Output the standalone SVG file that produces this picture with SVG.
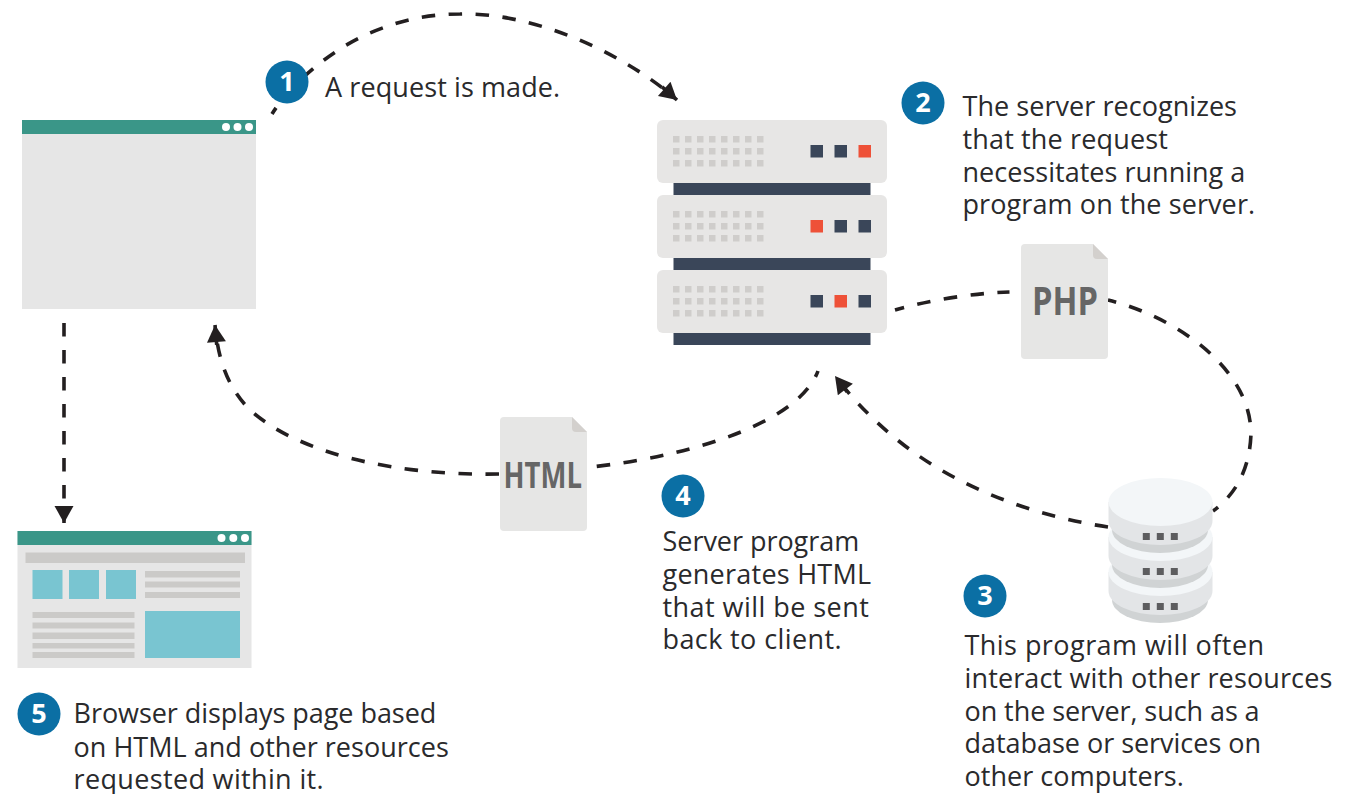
<svg xmlns="http://www.w3.org/2000/svg" xmlns:xlink="http://www.w3.org/1999/xlink" width="1360" height="794" viewBox="0 0 1360 794">
<style>
.lbl{font-family:"Open Sans","Noto Sans",sans-serif;font-size:27px;letter-spacing:.1px;fill:#2a2a2c}
.num{font-family:"Open Sans","Noto Sans",sans-serif;font-size:27px;font-weight:700;fill:#fff;text-anchor:middle}
.badge{fill:#0b6fa4}
.dash{fill:none;stroke:#231f20;stroke-width:3.6;stroke-dasharray:13.500 13.500}
.dark{fill:#3a4659}.red{fill:#ee5138}.unit{fill:#e7e6e5}.dot{fill:#cfcdcb}
.teal{fill:#3a9688}.page{fill:#e6e6e6}.wd{fill:#fff}.ln{fill:#cbcac8}.blue{fill:#79c5d1}
.doc{fill:#e6e6e5}.fold{fill:#d3d0cd}.dt{font-family:"Open Sans","Noto Sans",sans-serif;font-weight:700;fill:#666}
.dbt{fill:#f3f6f8}.dbm{fill:#e3e5e7}.dbd{fill:#d0d3d4}.dbs{fill:#5d5d5f}
</style>
<defs>
<marker id="ah" markerUnits="userSpaceOnUse" markerWidth="24" markerHeight="22" refX="20" refY="9.500" orient="auto"><path d="M0,7.700H4V11.300H0Z" fill="#231f20"/><path d="M3,0L20,9.500L3,19Z" fill="#231f20"/></marker>
<marker id="ah2" markerUnits="userSpaceOnUse" markerWidth="24" markerHeight="22" refX="17" refY="9.500" orient="auto"><path d="M0,0L17,9.500L0,19Z" fill="#231f20"/></marker>
<g id="grid">
<g id="row"><rect x="673" y="136" width="6.500" height="6.500" class="dot"/><rect x="685" y="136" width="6.500" height="6.500" class="dot"/><rect x="697" y="136" width="6.500" height="6.500" class="dot"/><rect x="709" y="136" width="6.500" height="6.500" class="dot"/><rect x="721" y="136" width="6.500" height="6.500" class="dot"/><rect x="733" y="136" width="6.500" height="6.500" class="dot"/><rect x="745" y="136" width="6.500" height="6.500" class="dot"/><rect x="757" y="136" width="6.500" height="6.500" class="dot"/></g>
<use xlink:href="#row" href="#row" y="12"/><use xlink:href="#row" href="#row" y="24"/>
</g>
<g id="tier"><path d="M1112,510V530A48,23 0 0 0 1208,530V510Z" class="dbd"/><path d="M1108.500,502V521A52,24 0 0 0 1212.500,521V502Z" class="dbm"/><ellipse cx="1160.500" cy="502" rx="52" ry="24" class="dbt"/><rect x="1142.800" y="533" width="7" height="7" class="dbs"/><rect x="1156.800" y="533" width="7" height="7" class="dbs"/><rect x="1170.800" y="533" width="7" height="7" class="dbs"/></g>
</defs>
<g id="connectors">
<path class="dash" stroke-dashoffset="6" d="M272,114C290,85 330,50 370,33C400,20 430,14 460,14C530,12 620,50 677,100" marker-end="url(#ah)"/>
<path class="dash" stroke-dashoffset="4" d="M895,310C930,300 975,293 1009.500,292"/>
<path class="dash" stroke-dashoffset="5" d="M1108,300C1170,315 1250,365 1251,433C1250,470 1235,495 1213,511"/>
<path class="dash" d="M1108,527C1040,517 960,490 900,442C875,422 855,402 835,376" marker-end="url(#ah)"/>
<path class="dash" stroke-dashoffset="7" d="M818,371C800,420 700,455 591,467"/>
<path class="dash" d="M499,474C400,476 300,455 250,410C228,388 218,360 215,325" marker-end="url(#ah)"/>
<path class="dash" d="M64,323V523" marker-end="url(#ah2)"/>
</g>
<g id="browser-blank">
<rect x="22" y="120" width="234" height="189" class="page"/><rect x="22" y="120" width="234" height="14" class="teal"/>
<circle cx="226" cy="127" r="4" class="wd"/><circle cx="237.500" cy="127" r="4" class="wd"/><circle cx="249" cy="127" r="4" class="wd"/>
</g>
<g id="browser-page">
<rect x="17.500" y="531" width="234" height="137" class="page"/><rect x="17.500" y="531" width="234" height="14" class="teal"/>
<circle cx="221.500" cy="538" r="4" class="wd"/><circle cx="233.300" cy="538" r="4" class="wd"/><circle cx="245" cy="538" r="4" class="wd"/>
<rect x="25.500" y="552.500" width="219.500" height="10.500" class="ln"/>
<rect x="32.500" y="570" width="30" height="29" class="blue"/><rect x="69" y="570" width="30" height="29" class="blue"/><rect x="106" y="570" width="30" height="29" class="blue"/>
<rect x="145" y="571" width="95" height="6.500" class="ln"/><rect x="145" y="581.500" width="95" height="6" class="ln"/><rect x="145" y="592" width="95" height="6" class="ln"/>
<rect x="32.500" y="612" width="102" height="6" class="ln"/><rect x="32.500" y="622.500" width="102" height="6" class="ln"/><rect x="32.500" y="632.500" width="102" height="6.500" class="ln"/><rect x="32.500" y="643" width="102" height="5.500" class="ln"/><rect x="32.500" y="652" width="102" height="6" class="ln"/>
<rect x="145" y="611" width="95" height="47" class="blue"/>
</g>
<g id="server">
<rect x="673.500" y="183" width="197" height="12" class="dark"/><rect x="673.500" y="258" width="197" height="12" class="dark"/><rect x="673.500" y="333" width="197" height="12" class="dark"/>
<rect x="657" y="120" width="230" height="63" rx="6" class="unit"/><rect x="657" y="195" width="230" height="63" rx="6" class="unit"/><rect x="657" y="270" width="230" height="63" rx="6" class="unit"/>
<use xlink:href="#grid" href="#grid"/><use xlink:href="#grid" href="#grid" y="75"/><use xlink:href="#grid" href="#grid" y="150"/>
<rect x="810.500" y="145" width="12.500" height="12.500" class="dark"/><rect x="834.500" y="145" width="12.500" height="12.500" class="dark"/><rect x="858.500" y="145" width="12.500" height="12.500" class="red"/>
<rect x="810.500" y="220" width="12.500" height="12.500" class="red"/><rect x="834.500" y="220" width="12.500" height="12.500" class="dark"/><rect x="858.500" y="220" width="12.500" height="12.500" class="dark"/>
<rect x="810.500" y="295" width="12.500" height="12.500" class="dark"/><rect x="834.500" y="295" width="12.500" height="12.500" class="red"/><rect x="858.500" y="295" width="12.500" height="12.500" class="dark"/>
</g>
<g id="php-file">
<path d="M1025,244H1093L1108,259V355a4,4 0 0 1 -4,4H1025a4,4 0 0 1 -4,-4V248a4,4 0 0 1 4,-4Z" class="doc"/><path d="M1093,244L1108,259H1097a4,4 0 0 1 -4,-4Z" class="fold"/>
<text x="1032" y="315" style="font-size:39px" class="dt" textLength="66" lengthAdjust="spacingAndGlyphs">PHP</text>
</g>
<g id="html-file">
<path d="M504,417H572L587,432V527a4,4 0 0 1 -4,4H504a4,4 0 0 1 -4,-4V421a4,4 0 0 1 4,-4Z" class="doc"/><path d="M572,417L587,432H576a4,4 0 0 1 -4,-4Z" class="fold"/>
<text x="503.500" y="488" style="font-size:35px" class="dt" textLength="78.500" lengthAdjust="spacingAndGlyphs">HTML</text>
</g>
<g id="database">
<use xlink:href="#tier" href="#tier" y="70"/><use xlink:href="#tier" href="#tier" y="35"/><use xlink:href="#tier" href="#tier"/>
</g>
<g id="step1"><circle cx="287" cy="82" r="21.500" class="badge"/><text x="287" y="91" class="num">1</text>
<text x="325" y="97" class="lbl">A request is made.</text></g>
<g id="step2"><circle cx="923" cy="103" r="21.500" class="badge"/><text x="923" y="112" class="num">2</text>
<text class="lbl"><tspan x="962.500" y="115.500" letter-spacing="0.05">The server recognizes</tspan><tspan x="962.500" y="148.500" letter-spacing="0.15">that the request</tspan><tspan x="962.500" y="181.500" letter-spacing="0.02">necessitates running a</tspan><tspan x="962.500" y="213.500">program on the server.</tspan></text></g>
<g id="step3"><circle cx="985" cy="596" r="21.500" class="badge"/><text x="985" y="605" class="num">3</text>
<text class="lbl"><tspan x="964.500" y="654.500" letter-spacing="0.45">This program will often</tspan><tspan x="964.500" y="687.500" letter-spacing="0.13">interact with other resources</tspan><tspan x="964.500" y="720.500" letter-spacing="-0.07">on the server, such as a</tspan><tspan x="964.500" y="752.500" letter-spacing="-0.03">database or services on</tspan><tspan x="964.500" y="785.500" letter-spacing="0.04">other computers.</tspan></text></g>
<g id="step4"><circle cx="683" cy="496" r="21.500" class="badge"/><text x="683" y="505" class="num">4</text>
<text class="lbl"><tspan x="662.500" y="550.500" letter-spacing="-0.04">Server program</tspan><tspan x="662.500" y="583.500" letter-spacing="0.24">generates HTML</tspan><tspan x="662.500" y="616.500" letter-spacing="0.45">that will be sent</tspan><tspan x="662.500" y="648.500" letter-spacing="0.39">back to client.</tspan></text></g>
<g id="step5"><circle cx="39" cy="714" r="21.500" class="badge"/><text x="39" y="723" class="num">5</text>
<text class="lbl"><tspan x="73.500" y="722.500" letter-spacing="-0.05">Browser displays page based</tspan><tspan x="73.500" y="756.500" letter-spacing="0.03">on HTML and other resources</tspan><tspan x="73.500" y="788.500" letter-spacing="0.35">requested within it.</tspan></text></g>
</svg>
